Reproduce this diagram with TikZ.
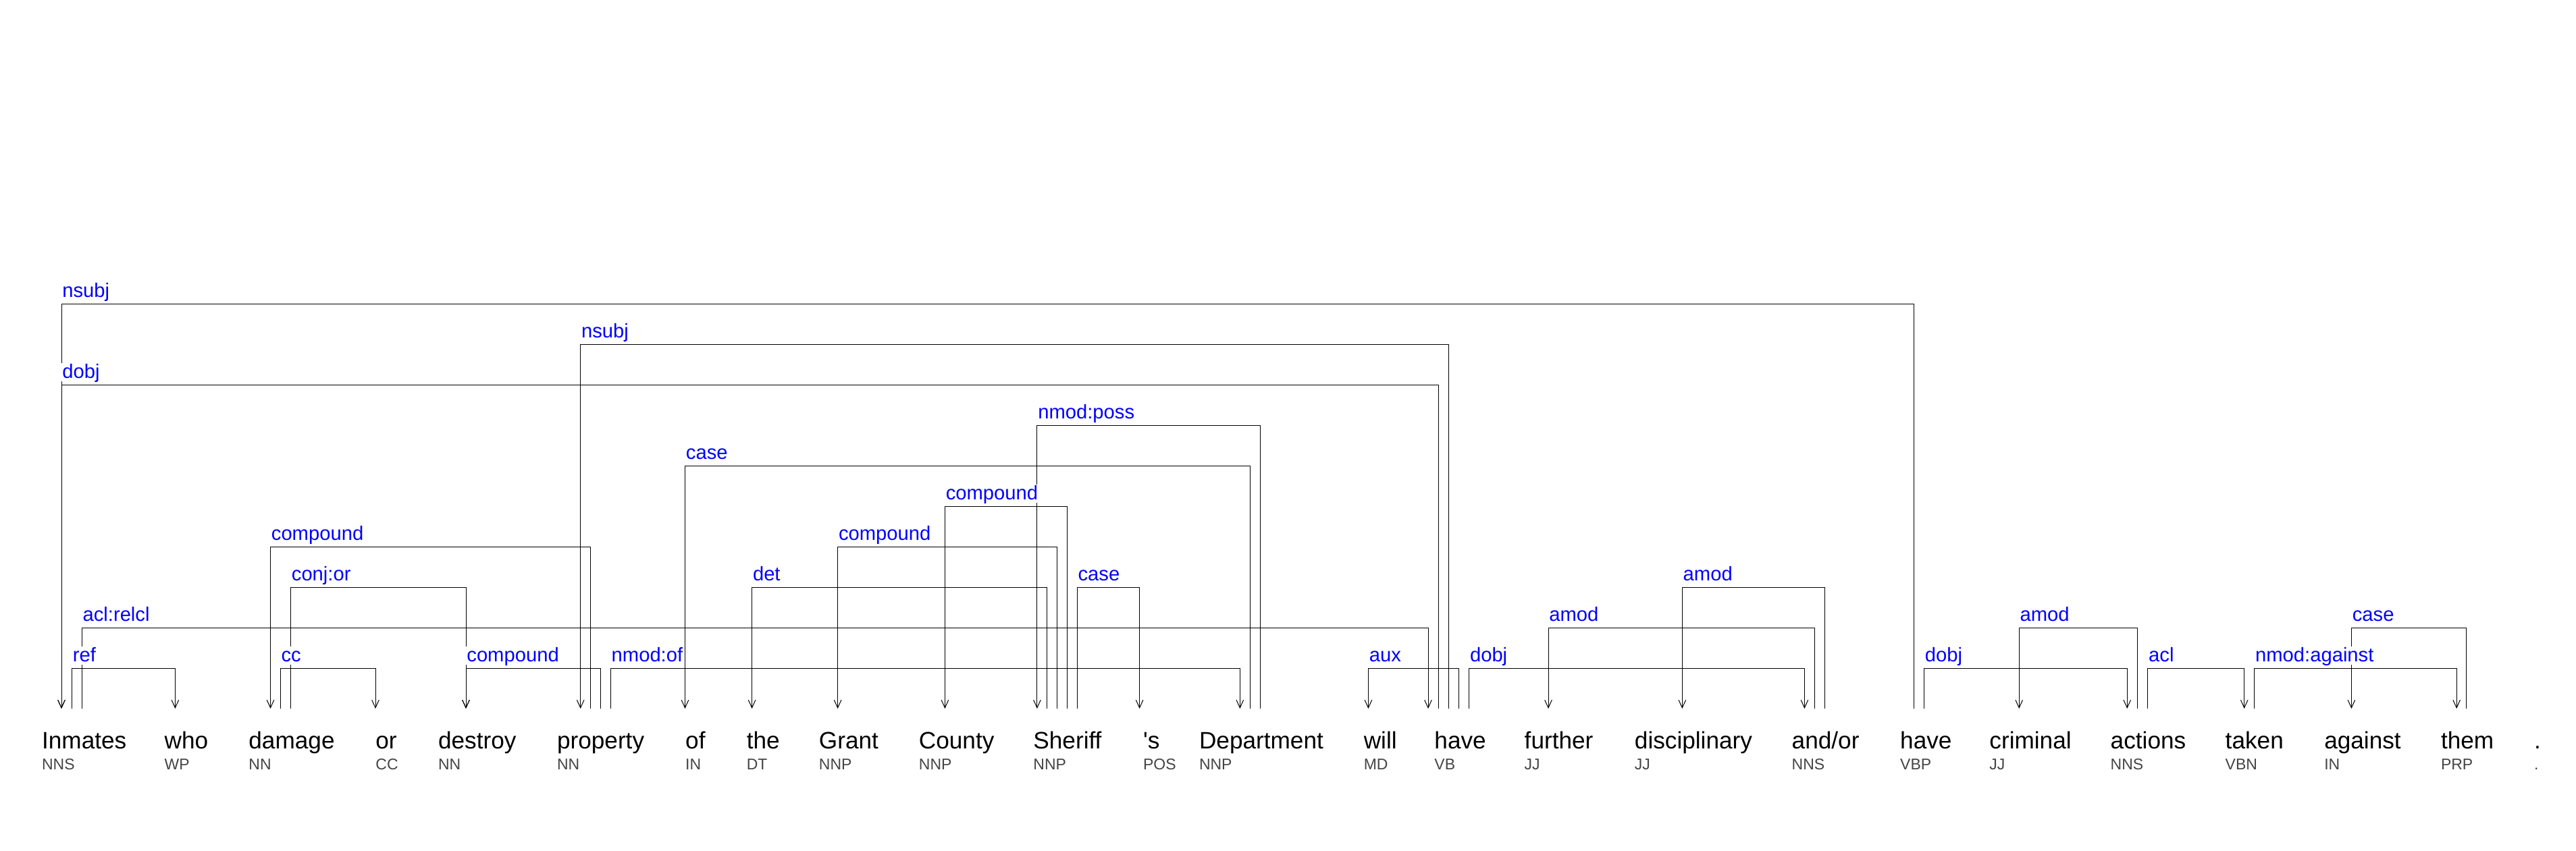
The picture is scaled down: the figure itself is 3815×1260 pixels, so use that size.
\documentclass[tikz,border=0pt]{standalone}
\usepackage{fontspec}
\setmainfont{Liberation Sans}[Ligatures=TeXOff]
\usetikzlibrary{arrows.meta}
\definecolor{labblue}{RGB}{0,0,255}
\definecolor{posgray}{RGB}{68,68,68}
\newcommand\deparc[3]{\draw[dep] (#1) -- ++(0,#3) -| (#2);}
\begin{document}
\begin{tikzpicture}[x=0.5pt,y=-0.5pt,
  word/.style={anchor=base west,inner sep=0pt,font=\fontsize{17.6pt}{20pt}\selectfont},
  tag/.style={anchor=base west,inner sep=0pt,text=posgray,font=\fontsize{11.5pt}{14pt}\selectfont},
  lab/.style={anchor=base west,fill=white,inner xsep=0.5pt,inner ysep=0.5pt,text height=11pt,text depth=1.5pt,text=labblue,font=\fontsize{14.6pt}{16pt}\selectfont},
  dep/.style={line width=0.5pt,-{Straight Barb[length=5.8pt,width=5.3pt]}}]
\useasboundingbox[fill=white] (0,0) rectangle (3815,1260);
% words
\node[word] (w1) at (61.7,1109) {Inmates};
\node[word] (w2) at (243.3,1109) {who};
\node[word] (w3) at (368,1109) {damage};
\node[word] (w4) at (556,1109) {or};
\node[word] (w5) at (648.6,1109) {destroy};
\node[word] (w6) at (824.6,1109) {property};
\node[word] (w7) at (1014.8,1109) {of};
\node[word] (w8) at (1105.4,1109) {the};
\node[word] (w9) at (1212.5,1109) {Grant};
\node[word] (w10) at (1360.5,1109) {County};
\node[word] (w11) at (1530,1109) {Sheriff};
\node[word] (w12) at (1692.7,1109) {'s};
\node[word] (w13) at (1775.6,1109) {Department};
\node[word] (w14) at (2019.4,1109) {will};
\node[word] (w15) at (2124,1109) {have};
\node[word] (w16) at (2257.3,1109) {further};
\node[word] (w17) at (2420.5,1109) {disciplinary};
\node[word] (w18) at (2653.3,1109) {and/or};
\node[word] (w19) at (2813.8,1109) {have};
\node[word] (w20) at (2946,1109) {criminal};
\node[word] (w21) at (3125.3,1109) {actions};
\node[word] (w22) at (3295.3,1109) {taken};
\node[word] (w23) at (3441.8,1109) {against};
\node[word] (w24) at (3614.6,1109) {them};
\node[word] (w25) at (3752.6,1109) {.};
% tags
\node[tag] (t1) at (61.7,1140) {NNS};
\node[tag] (t2) at (243.3,1140) {WP};
\node[tag] (t3) at (368,1140) {NN};
\node[tag] (t4) at (556,1140) {CC};
\node[tag] (t5) at (648.6,1140) {NN};
\node[tag] (t6) at (824.6,1140) {NN};
\node[tag] (t7) at (1014.8,1140) {IN};
\node[tag] (t8) at (1105.4,1140) {DT};
\node[tag] (t9) at (1212.5,1140) {NNP};
\node[tag] (t10) at (1360.5,1140) {NNP};
\node[tag] (t11) at (1530,1140) {NNP};
\node[tag] (t12) at (1692.7,1140) {POS};
\node[tag] (t13) at (1775.6,1140) {NNP};
\node[tag] (t14) at (2019.4,1140) {MD};
\node[tag] (t15) at (2124,1140) {VB};
\node[tag] (t16) at (2257.3,1140) {JJ};
\node[tag] (t17) at (2420.5,1140) {JJ};
\node[tag] (t18) at (2653.3,1140) {NNS};
\node[tag] (t19) at (2813.8,1140) {VBP};
\node[tag] (t20) at (2946,1140) {JJ};
\node[tag] (t21) at (3125.3,1140) {NNS};
\node[tag] (t22) at (3295.3,1140) {VBN};
\node[tag] (t23) at (3441.8,1140) {IN};
\node[tag] (t24) at (3614.6,1140) {PRP};
\node[tag] (t25) at (3752.6,1140) {.};
% attachment points
\foreach \n/\x in {inmA/91,inmB/106.4,inmC/121.2,whoA/259.4,damA/400.5,damB/415.2,damC/430.5,orA/556,desA/690,proA/859.7,proB/874.4,proC/889.6,proD/904.3,ofA/1014.5,theA/1113.6,graA/1240.6,couA/1399.4,sheA/1535.9,sheB/1550.5,sheC/1565.2,sheD/1580.5,sheE/1595.2,posA/1687.6,depA/1836.3,depB/1851.6,depC/1866.3,wilA/2026.4,hvA/2115,hvB/2130.4,hvC/2145.7,hvD/2160.3,hvE/2175.6,furA/2293,disA/2491.3,andA/2672.4,andB/2687.1,andC/2702.4,hwA/2834.4,hwB/2849.4,criA/2990.2,actA/3150.2,actB/3165.1,actC/3180.8,takA/3323.7,takB/3338.7,agaA/3482.4,thmA/3638.1,thmB/3652.3}
  \coordinate (\n) at (\x,1050);
% arcs
\deparc{hwA}{inmA}{-600}
\deparc{hvC}{proA}{-540}
\deparc{hvB}{inmA}{-480}
\deparc{depC}{sheA}{-420}
\deparc{depB}{ofA}{-360}
\deparc{sheD}{couA}{-300}
\deparc{sheC}{graA}{-240}
\deparc{proB}{damA}{-240}
\deparc{damC}{desA}{-180}
\deparc{sheB}{theA}{-180}
\deparc{sheE}{posA}{-180}
\deparc{andC}{disA}{-180}
\deparc{inmC}{hvA}{-120}
\deparc{andB}{furA}{-120}
\deparc{actB}{criA}{-120}
\deparc{thmB}{agaA}{-120}
\deparc{inmB}{whoA}{-60}
\deparc{damB}{orA}{-60}
\deparc{proC}{desA}{-60}
\deparc{proD}{depA}{-60}
\deparc{hvD}{wilA}{-60}
\deparc{hvE}{andA}{-60}
\deparc{hwB}{actA}{-60}
\deparc{actC}{takA}{-60}
\deparc{takB}{thmA}{-60}
% labels
\node[lab] (l1) at (91,440.5) {nsubj};
\node[lab] (l2) at (859.7,500.5) {nsubj};
\node[lab] (l3) at (91,560.5) {dobj};
\node[lab] (l4) at (1535.9,620.5) {nmod:poss};
\node[lab] (l5) at (1014.5,680.5) {case};
\node[lab] (l6) at (1399.4,740.5) {compound};
\node[lab] (l7) at (1240.6,800.5) {compound};
\node[lab] (l8) at (400.5,800.5) {compound};
\node[lab] (l9) at (430.5,860.5) {conj:or};
\node[lab] (l10) at (1113.6,860.5) {det};
\node[lab] (l11) at (1595.2,860.5) {case};
\node[lab] (l12) at (2491.3,860.5) {amod};
\node[lab] (l13) at (121.2,920.5) {acl:relcl};
\node[lab] (l14) at (2293,920.5) {amod};
\node[lab] (l15) at (2990.2,920.5) {amod};
\node[lab] (l16) at (3482.4,920.5) {case};
\node[lab] (l17) at (106.4,980.5) {ref};
\node[lab] (l18) at (415.2,980.5) {cc};
\node[lab] (l19) at (690,980.5) {compound};
\node[lab] (l20) at (904.3,980.5) {nmod:of};
\node[lab] (l21) at (2026.4,980.5) {aux};
\node[lab] (l22) at (2175.6,980.5) {dobj};
\node[lab] (l23) at (2849.4,980.5) {dobj};
\node[lab] (l24) at (3180.8,980.5) {acl};
\node[lab] (l25) at (3338.7,980.5) {nmod:against};
\end{tikzpicture}
\end{document}
